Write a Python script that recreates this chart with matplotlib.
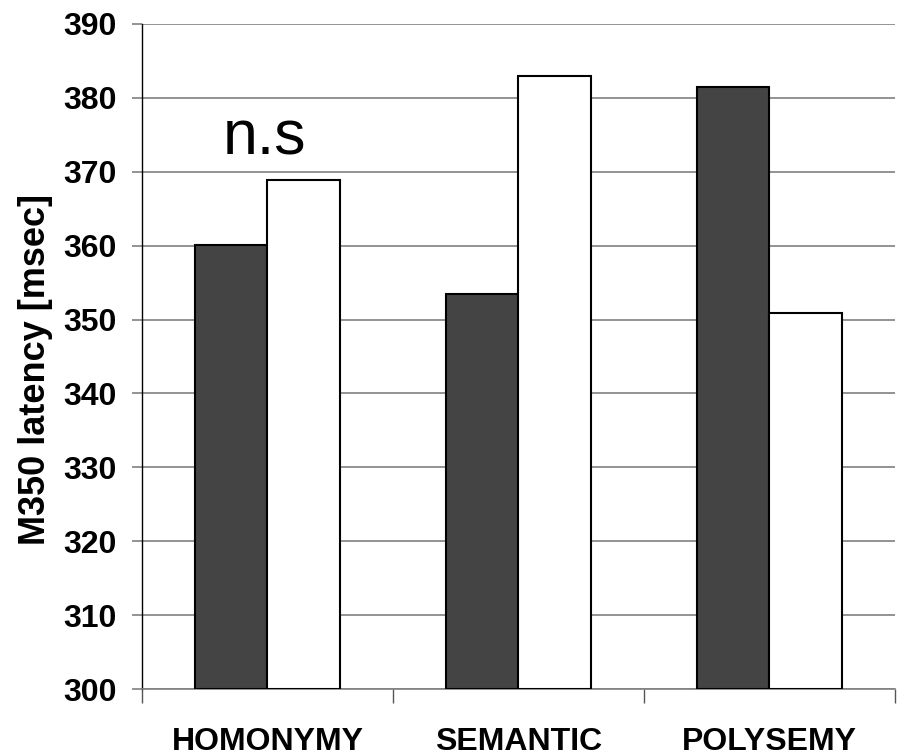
import numpy as np
from matplotlib import pyplot as plt

categories = ['HOMONYMY', 'SEMANTIC', 'POLYSEMY']
dark_vals = [360.1, 353.5, 381.5]
white_vals = [368.9, 383.0, 350.9]
yticks = [300, 310, 320, 330, 340, 350, 360, 370, 380, 390]

plt.rcParams['font.family'] = ['Liberation Sans', 'DejaVu Sans']

fig = plt.figure(figsize=(9.01, 7.56), dpi=100)
ax = fig.add_axes([0.1576, 0.0886, 0.8357, 0.8797])

x = np.arange(len(categories))
w = 0.287
ax.bar(x - w/2, np.array(dark_vals) - 300, w, bottom=300, color='#444444',
       edgecolor='black', linewidth=1.5, zorder=3)
ax.bar(x + w/2, np.array(white_vals) - 300, w, bottom=300, color='white',
       edgecolor='black', linewidth=1.5, zorder=3)

ax.set_ylim(300, 390)
ax.set_xlim(-0.5, 2.5)
ax.set_yticks(yticks)
ax.set_yticklabels([str(v) for v in yticks], fontsize=23, fontweight='bold')
ax.yaxis.grid(True, color='#808080', linewidth=1.2, zorder=0)
ax.set_axisbelow(True)

# category labels between boundary ticks
ax.set_xticks([-0.5, 0.5, 1.5, 2.5])
ax.set_xticklabels([])
ax.set_xticks(x, minor=True)
ax.set_xticklabels(categories, minor=True, fontsize=23, fontweight='bold')
ax.tick_params(axis='x', which='minor', length=0, pad=27)
ax.tick_params(axis='x', which='major', length=10, color='#555555', width=1)
ax.tick_params(axis='y', length=7, color='#808080', width=1.2, pad=11)

for s in ['top', 'right']:
    ax.spines[s].set_visible(False)
ax.spines['left'].set_color('black')
ax.spines['left'].set_linewidth(1)
ax.spines['bottom'].set_color('#808080')
ax.spines['bottom'].set_linewidth(1.2)

ax.text(-0.01, 372.4, 'n.s', fontsize=45, ha='center', va='baseline')

fig.text(36/901, 0.511, 'M350 latency [msec]', rotation=90, fontsize=26,
         fontweight='bold', ha='center', va='center')

fig.savefig('out.png', dpi=100)
